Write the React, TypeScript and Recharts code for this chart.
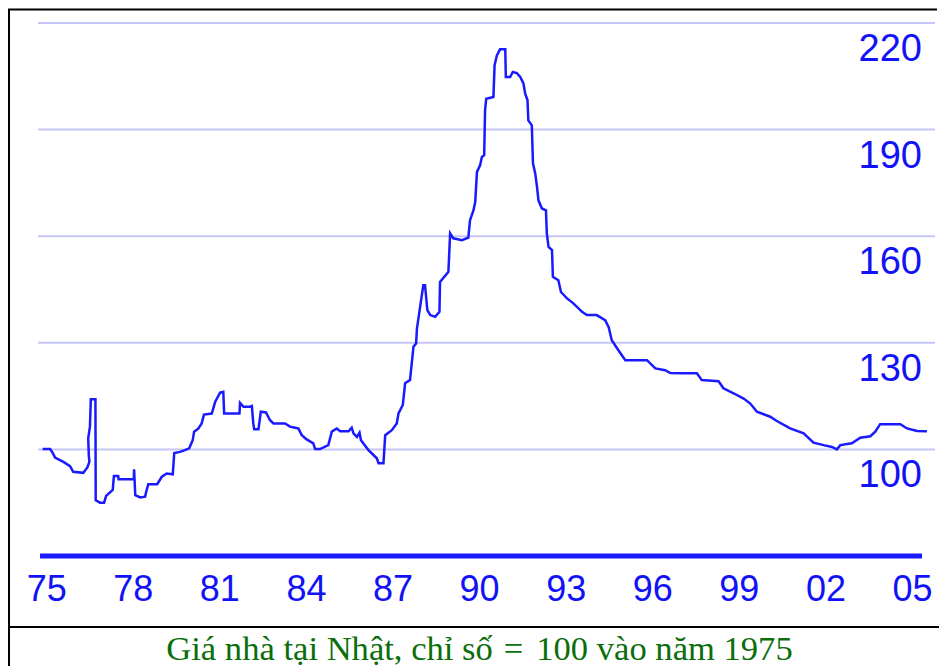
import React from 'react';
import { LineChart, Line, XAxis, YAxis, CartesianGrid, ReferenceLine } from 'recharts';

// Japanese house price index, 1975 = 100
const YEARS = [
  1974.86, 1975.12, 1975.21, 1975.29, 1975.58, 1975.81, 1975.92, 1976.27, 1976.41, 1976.48,
  1976.46, 1976.44, 1976.5, 1976.53, 1976.69, 1976.7, 1976.85, 1976.99, 1977.06, 1977.29,
  1977.33, 1977.48, 1977.49, 1978.02, 1978.03, 1978.07, 1978.24, 1978.41, 1978.47, 1978.52,
  1978.83, 1978.99, 1979.16, 1979.37, 1979.39, 1979.42, 1979.62, 1979.79, 1979.94, 1980.06,
  1980.11, 1980.26, 1980.37, 1980.45, 1980.72, 1980.84, 1981.01, 1981.12, 1981.15, 1981.68,
  1981.7, 1981.82, 1982.05, 1982.11, 1982.16, 1982.19, 1982.34, 1982.42, 1982.6, 1982.74,
  1982.86, 1983.26, 1983.43, 1983.72, 1983.84, 1984.01, 1984.24, 1984.3, 1984.47, 1984.76,
  1984.88, 1985.05, 1985.17, 1985.46, 1985.57, 1985.63, 1985.75, 1985.84, 1985.89, 1986.15,
  1986.44, 1986.5, 1986.67, 1986.73, 1986.96, 1987.13, 1987.19, 1987.34, 1987.42, 1987.59,
  1987.65, 1987.71, 1987.8, 1987.83, 1987.94, 1988.05, 1988.11, 1988.19, 1988.29, 1988.46,
  1988.61, 1988.63, 1988.92, 1988.98, 1989.09, 1989.39, 1989.61, 1989.67, 1989.79, 1989.85,
  1989.91, 1990.02, 1990.08, 1990.16, 1990.19, 1990.23, 1990.48, 1990.52, 1990.6, 1990.71,
  1990.89, 1990.91, 1991.06, 1991.15, 1991.29, 1991.41, 1991.52, 1991.58, 1991.66, 1991.69,
  1991.81, 1991.85, 1991.93, 1991.99, 1992.04, 1992.16, 1992.3, 1992.33, 1992.39, 1992.51,
  1992.54, 1992.73, 1992.82, 1993.03, 1993.25, 1993.55, 1993.72, 1994.06, 1994.35, 1994.47,
  1994.58, 1994.81, 1995.05, 1995.8, 1996.09, 1996.43, 1996.61, 1997.07, 1997.53, 1997.7,
  1998.28, 1998.45, 1998.8, 1999.15, 1999.38, 1999.61, 2000.07, 2000.3, 2000.76, 2001.23,
  2001.57, 2001.92, 2002.21, 2002.38, 2002.5, 2002.9, 2003.19, 2003.54, 2003.71, 2003.88,
  2004.58, 2004.81, 2005.16, 2005.5,
];

const INDEX = [
  100.1, 100.1, 99.0, 97.7, 96.5, 95.3, 93.7, 93.4, 94.9, 96.5,
  98.4, 103.1, 106.4, 114.1, 114.1, 85.7, 85.0, 85.0, 86.9, 88.6,
  92.5, 92.5, 91.6, 91.6, 94.4, 87.1, 86.5, 86.7, 88.7, 90.2,
  90.2, 92.3, 93.2, 93.0, 95.3, 99.0, 99.3, 99.8, 100.3, 102.6,
  105.0, 105.9, 107.3, 109.8, 110.1, 113.4, 116.0, 116.2, 110.1, 110.1,
  113.1, 112.0, 112.0, 112.2, 107.3, 105.7, 105.7, 110.6, 110.4, 108.2,
  107.3, 107.3, 106.4, 105.9, 104.0, 102.8, 101.7, 100.1, 100.1, 101.2,
  105.0, 105.9, 105.1, 105.1, 106.1, 104.5, 103.5, 104.7, 102.6, 99.8,
  97.5, 96.1, 96.1, 104.0, 105.4, 107.3, 110.1, 112.5, 118.6, 119.5,
  124.2, 128.9, 129.8, 134.0, 140.1, 146.2, 146.2, 139.2, 137.8, 137.3,
  138.7, 147.1, 150.0, 160.8, 159.4, 158.9, 159.6, 164.5, 167.3, 169.7,
  178.1, 180.0, 182.3, 182.8, 195.4, 198.7, 199.2, 208.1, 210.9, 212.6,
  212.6, 204.8, 204.8, 206.2, 205.9, 204.8, 203.0, 200.1, 198.3, 192.6,
  191.2, 180.5, 177.6, 173.9, 170.1, 167.8, 167.3, 160.8, 157.0, 156.1,
  148.6, 147.6, 144.3, 142.5, 141.1, 138.7, 137.8, 137.8, 136.4, 134.5,
  130.7, 127.9, 125.1, 125.1, 122.8, 122.3, 121.5, 121.4, 121.4, 119.5,
  119.2, 117.2, 115.8, 114.3, 112.9, 110.6, 109.2, 108.0, 105.9, 104.5,
  101.9, 101.2, 100.7, 100.0, 101.2, 101.7, 103.3, 103.7, 105.0, 107.1,
  107.1, 105.9, 105.2, 105.1,
];

const X_TICKS = [1975, 1978, 1981, 1984, 1987, 1990, 1993, 1996, 1999, 2002, 2005];
const Y_TICKS = [100, 130, 160, 190, 220];
const X_DOMAIN = [1974.7, 2005.78];
const Y_DOMAIN = [70, 220];
const BASE_LINE_FROM = 1974.77;
const BASE_LINE_TO = 2005.33;
const CAPTION_LEFT = 'Giá nhà tại Nhật, chỉ số';
const CAPTION_EQ = '=';
const CAPTION_RIGHT = '100 vào năm 1975';

const data = YEARS.map((y, i) => ({ year: y, value: INDEX[i] }));

const BLUE = '#1212f6';
const LINE_BLUE = '#1a1aff';
const GRID = '#c6c6fb';
const SANS = '"Liberation Sans", Arial, sans-serif';

const fmtYear = (v: number) => String(v % 100).padStart(2, '0');

const XTick = (props: any) => {
  const { x, y, payload } = props;
  return (
    <text x={x} y={y + 45} textAnchor="middle" fill={BLUE} fontSize={36} fontFamily={SANS}>
      {fmtYear(payload.value)}
    </text>
  );
};

const YTick = (props: any) => {
  const { x, y, payload } = props;
  return (
    <text x={x - 13} y={y + 38} textAnchor="end" fill={BLUE} fontSize={38} fontFamily={SANS}>
      {payload.value}
    </text>
  );
};

export default function App() {
  return (
    <div style={{ position: 'absolute', left: 0, top: 0, width: 939, height: 666, background: '#fff', overflow: 'hidden' }}>
      <div style={{ position: 'absolute', left: 0, top: 0 }}>
        <LineChart width={939} height={610} data={data} margin={{ top: 23, right: 3, left: 38, bottom: 0 }}>
          <CartesianGrid horizontal vertical={false} horizontalValues={Y_TICKS} stroke={GRID} strokeWidth={2} />
          <XAxis
            dataKey="year"
            type="number"
            domain={X_DOMAIN}
            ticks={X_TICKS}
            allowDataOverflow
            axisLine={false}
            tickLine={false}
            tickSize={0}
            tickMargin={0}
            height={54}
            interval={0}
            tick={<XTick />}
          />
          <YAxis
            orientation="right"
            type="number"
            domain={Y_DOMAIN}
            ticks={Y_TICKS}
            allowDataOverflow
            axisLine={false}
            tickLine={false}
            tickSize={0}
            tickMargin={0}
            width={1}
            interval={0}
            tick={<YTick />}
          />
          <ReferenceLine
            segment={[{ x: BASE_LINE_FROM, y: Y_DOMAIN[0] }, { x: BASE_LINE_TO, y: Y_DOMAIN[0] }]}
            stroke={LINE_BLUE}
            strokeWidth={5}
            ifOverflow="visible"
          />
          <Line
            type="linear"
            dataKey="value"
            stroke={LINE_BLUE}
            strokeWidth={2.5}
            dot={false}
            isAnimationActive={false}
          />
        </LineChart>
      </div>
      <svg width={939} height={666} style={{ position: 'absolute', left: 0, top: 0, pointerEvents: 'none' }}>
        <line x1={8} y1={9.5} x2={937} y2={9.5} stroke="#000" strokeWidth={2} />
        <line x1={9} y1={9} x2={9} y2={666} stroke="#000" strokeWidth={2} />
        <line x1={8} y1={627} x2={939} y2={627} stroke="#000" strokeWidth={2} />
        <text x={479.5} y={660} textAnchor="middle" fill="#0b6e0b" fontSize={34.6} fontFamily='"Liberation Serif", "Times New Roman", serif'>
          {CAPTION_LEFT}
          <tspan dx={11}>{CAPTION_EQ}</tspan>
          <tspan dx={13}>{CAPTION_RIGHT}</tspan>
        </text>
      </svg>
    </div>
  );
}
